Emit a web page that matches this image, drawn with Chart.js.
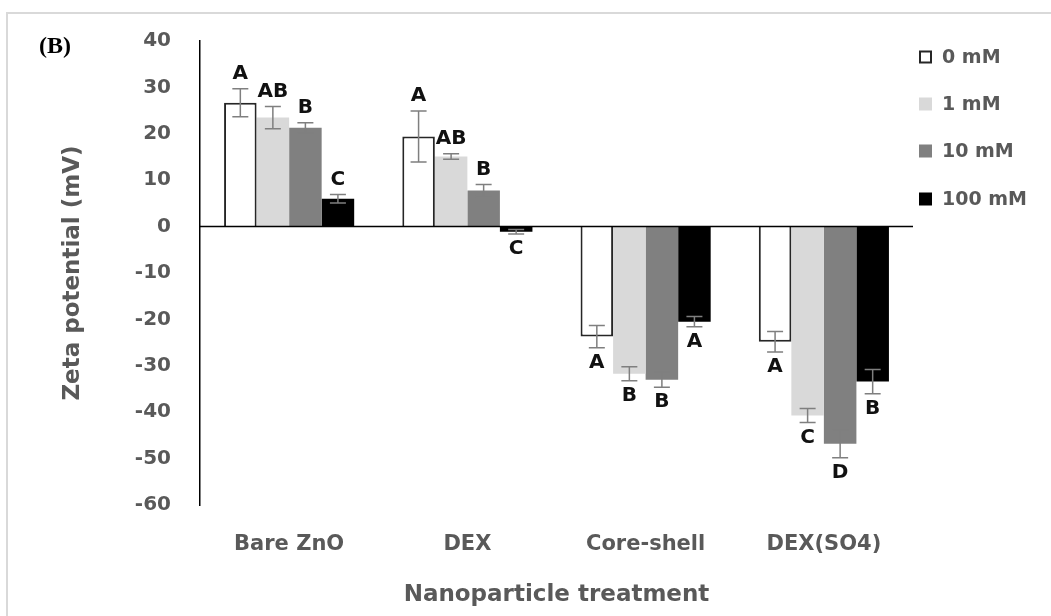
<!DOCTYPE html>
<html>
<head>
<meta charset="utf-8">
<title>Zeta potential</title>
<script src="https://cdn.jsdelivr.net/npm/chart.js@4"></script>
<style>
  body { margin: 0; background: #fff; }
  canvas { display: block; }
</style>
</head>
<body>
<canvas id="zeta" width="1051" height="616"></canvas>
<script>
// treatments on the x axis and NaCl concentrations as series
const categories = ['Bare ZnO', 'DEX', 'Core-shell', 'DEX(SO4)'];
const concLabels = ['0 mM', '1 mM', '10 mM', '100 mM'];

// mean zeta potential (mV) per concentration
const zeta0   = [26.7, 19.4, -23.7, -24.8];
const zeta1   = [23.5, 15.1, -31.7, -40.7];
const zeta10  = [21.3, 7.8, -33.0, -46.8];
const zeta100 = [6.0, -1.1, -20.5, -33.4];

// standard deviations
const err0   = [3.0, 5.5, 2.4, 2.2];
const err1   = [2.4, 0.6, 1.5, 1.5];
const err10  = [1.1, 1.3, 1.6, 3.0];
const err100 = [0.9, 0.5, 1.1, 2.6];

// significance letters
const letters0   = ['A', 'A', 'A', 'A'];
const letters1   = ['AB', 'AB', 'B', 'C'];
const letters10  = ['B', 'B', 'B', 'D'];
const letters100 = ['C', 'C', 'A', 'B'];

const yTicks = [40, 30, 20, 10, 0, -10, -20, -30, -40, -50, -60];

const FONT = '"DejaVu Sans", sans-serif';
const GREY_TEXT = '#595959';

const errors = [err0, err1, err10, err100];
const letters = [letters0, letters1, letters10, letters100];

const extras = {
  id: 'extras',
  beforeDraw(chart) {
    const ctx = chart.ctx;
    ctx.save();
    ctx.fillStyle = '#fff';
    ctx.fillRect(0, 0, chart.width, chart.height);
    // outer frame (top and left edges)
    ctx.strokeStyle = '#d9d9d9';
    ctx.lineWidth = 2;
    ctx.beginPath();
    ctx.moveTo(chart.width, 13);
    ctx.lineTo(7, 13);
    ctx.lineTo(7, chart.height);
    ctx.stroke();
    ctx.restore();
  },
  afterDatasetsDraw(chart) {
    const ctx = chart.ctx;
    const y = chart.scales.y;
    const area = chart.chartArea;
    ctx.save();
    // horizontal axis crossing at zero
    const y0 = y.getPixelForValue(0);
    ctx.strokeStyle = '#000';
    ctx.lineWidth = 1.5;
    ctx.beginPath();
    ctx.moveTo(area.left, y0);
    ctx.lineTo(area.right, y0);
    ctx.stroke();

    chart.data.datasets.forEach((ds, di) => {
      const meta = chart.getDatasetMeta(di);
      meta.data.forEach((bar, i) => {
        const v = ds.data[i];
        const e = errors[di][i];
        const yHi = y.getPixelForValue(v + e);
        const yLo = y.getPixelForValue(v - e);
        ctx.strokeStyle = '#7f7f7f';
        ctx.lineWidth = 1.5;
        ctx.beginPath();
        ctx.moveTo(bar.x, yHi); ctx.lineTo(bar.x, yLo);
        ctx.moveTo(bar.x - 8, yHi); ctx.lineTo(bar.x + 8, yHi);
        ctx.moveTo(bar.x - 8, yLo); ctx.lineTo(bar.x + 8, yLo);
        ctx.stroke();

        ctx.fillStyle = '#111';
        ctx.font = 'bold 20px ' + FONT;
        ctx.textAlign = 'center';
        ctx.textBaseline = 'middle';
        const ly = v >= 0 ? yHi - 15 : yLo + 15;
        ctx.fillText(letters[di][i], bar.x, ly);
      });
    });
    ctx.restore();
  },
  afterDraw(chart) {
    const ctx = chart.ctx;
    ctx.save();
    // panel tag
    ctx.fillStyle = '#000';
    ctx.font = 'bold 24px "Liberation Serif", "DejaVu Serif", serif';
    ctx.textAlign = 'left';
    ctx.textBaseline = 'middle';
    ctx.fillText('(B)', 39, 47);

    // legend
    const rows = [57, 104, 151, 199];
    chart.data.datasets.forEach((ds, di) => {
      const cy = rows[di];
      ctx.fillStyle = ds.backgroundColor;
      ctx.fillRect(919, cy - 6.5, 13, 13);
      if (ds.borderWidth) {
        ctx.strokeStyle = ds.borderColor;
        ctx.lineWidth = 2;
        ctx.strokeRect(920, cy - 5.5, 11, 11);
      }
      ctx.fillStyle = GREY_TEXT;
      ctx.font = 'bold 19px ' + FONT;
      ctx.textBaseline = 'middle';
      ctx.fillText(ds.label, 942, cy + 1);
    });
    ctx.restore();
  }
};

new Chart(document.getElementById('zeta'), {
  type: 'bar',
  data: {
    labels: categories,
    datasets: [
      { label: concLabels[0], data: zeta0, backgroundColor: '#ffffff', borderColor: '#262626', borderWidth: 2 },
      { label: concLabels[1], data: zeta1, backgroundColor: '#d9d9d9', borderWidth: 0 },
      { label: concLabels[2], data: zeta10, backgroundColor: '#808080', borderWidth: 0 },
      { label: concLabels[3], data: zeta100, backgroundColor: '#000000', borderWidth: 0 }
    ]
  },
  options: {
    responsive: false,
    animation: false,
    devicePixelRatio: 1,
    layout: { padding: { top: 41, right: 138, left: 0, bottom: 0 } },
    datasets: { bar: { categoryPercentage: 0.73, barPercentage: 1 } },
    plugins: { legend: { display: false }, tooltip: { enabled: false } },
    scales: {
      x: {
        grid: { display: false, drawTicks: false },
        border: { display: false },
        ticks: { color: GREY_TEXT, font: { family: FONT, size: 21, weight: 'bold' }, padding: 27 },
        title: {
          display: true,
          text: 'Nanoparticle treatment',
          color: GREY_TEXT,
          font: { family: FONT, size: 23, weight: 'bold' },
          padding: { top: 0, bottom: 7 }
        },
        afterFit(scale) { scale.height = 111; }
      },
      y: {
        min: -60,
        max: 40,
        afterBuildTicks(scale) { scale.ticks = yTicks.map(v => ({ value: v })); },
        grid: { display: false, drawTicks: false },
        border: { display: true, color: '#000', width: 1.5 },
        ticks: { color: GREY_TEXT, font: { family: FONT, size: 20, weight: 'bold' }, padding: 29 },
        title: {
          display: true,
          text: 'Zeta potential (mV)',
          color: GREY_TEXT,
          font: { family: FONT, size: 23, weight: 'bold' },
          padding: { top: 59, bottom: 0 }
        },
        afterFit(scale) { scale.width = 200; }
      }
    }
  },
  plugins: [extras]
});
</script>
</body>
</html>
